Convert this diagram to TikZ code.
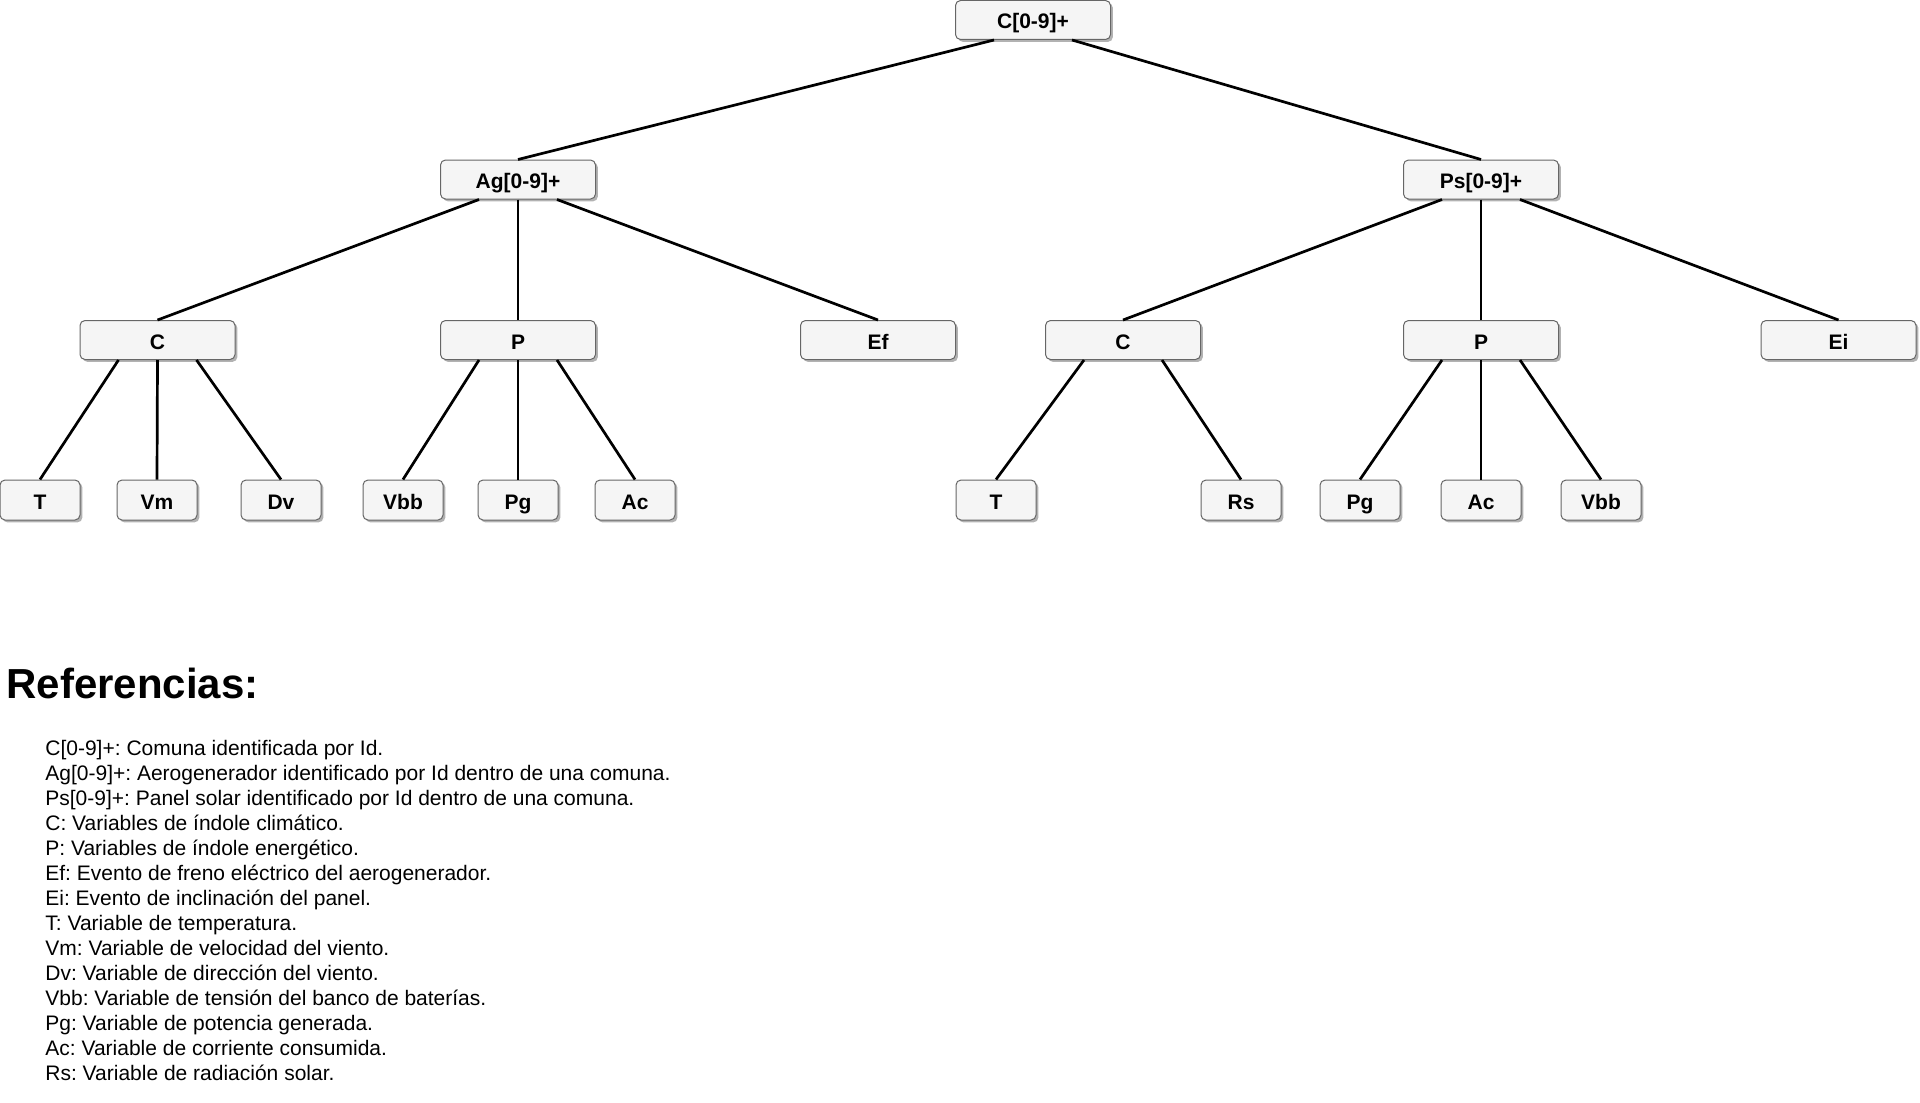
\documentclass[tikz,border=0pt]{standalone}
\usepackage{fontspec}
\setmainfont{Liberation Sans}
\usetikzlibrary{calc,shadows}
\definecolor{boxfill}{HTML}{F5F5F5}
\definecolor{boxline}{HTML}{666666}
\frenchspacing
\begin{document}
\begin{tikzpicture}[x=0.5pt,y=-0.5pt,
  box/.style={draw=boxline, fill=boxfill, rounded corners=2.5pt, line width=0.5pt,
    inner sep=0pt, text height=9pt, text depth=0pt,
    font=\bfseries\fontsize{10.5}{12}\selectfont,
    drop shadow={shadow xshift=1.2pt, shadow yshift=-1.2pt, opacity=0.3, fill=black}},
  bigbox/.style={box, minimum width=77.5pt, minimum height=19.5pt},
  leafbox/.style={box, minimum width=40pt, minimum height=20pt},
  edgeline/.style={line width=1.35pt, black},
  reftext/.style={anchor=base west, inner sep=0pt, font=\fontsize{10.5}{12}\selectfont}]

\useasboundingbox (0,0) rectangle (1920,1102);

% root
\node[bigbox] (root) at (1033,20) {C[0-9]+};

% first level
\node[bigbox] (ag) at (518,179.5) {Ag[0-9]+};
\node[bigbox] (ps) at (1481,179.5) {Ps[0-9]+};

% second level
\node[bigbox] (cA) at (157.5,340) {C};
\node[bigbox] (pA) at (518,340) {P};
\node[bigbox] (ef) at (878,340) {Ef};
\node[bigbox] (cB) at (1123,340) {C};
\node[bigbox] (pB) at (1481,340) {P};
\node[bigbox] (ei) at (1838.5,340) {Ei};

% leaves
\node[leafbox] (tA)   at (40,500)   {T};
\node[leafbox] (vm)   at (157,500)  {Vm};
\node[leafbox] (dv)   at (281,500)  {Dv};
\node[leafbox] (vbbA) at (403,500)  {Vbb};
\node[leafbox] (pgA)  at (518,500)  {Pg};
\node[leafbox] (acA)  at (635,500)  {Ac};
\node[leafbox] (tB)   at (996,500)  {T};
\node[leafbox] (rs)   at (1241,500) {Rs};
\node[leafbox] (pgB)  at (1360,500) {Pg};
\node[leafbox] (acB)  at (1481,500) {Ac};
\node[leafbox] (vbbB) at (1601,500) {Vbb};

% connectors: outer branches leave at a quarter of the parent's width
\newcommand{\qleft}[1]{($(#1.south west)!0.25!(#1.south east)$)}
\newcommand{\qright}[1]{($(#1.south west)!0.75!(#1.south east)$)}

\draw[edgeline] \qleft{root} -- (ag.north);
\draw[edgeline] \qright{root} -- (ps.north);

\draw[edgeline] \qleft{ag} -- (cA.north);
\draw[edgeline] (ag.south) -- (pA.north);
\draw[edgeline] \qright{ag} -- (ef.north);

\draw[edgeline] \qleft{ps} -- (cB.north);
\draw[edgeline] (ps.south) -- (pB.north);
\draw[edgeline] \qright{ps} -- (ei.north);

\draw[edgeline] \qleft{cA} -- (tA.north);
\draw[edgeline] (cA.south) -- (vm.north);
\draw[edgeline] \qright{cA} -- (dv.north);

\draw[edgeline] \qleft{pA} -- (vbbA.north);
\draw[edgeline] (pA.south) -- (pgA.north);
\draw[edgeline] \qright{pA} -- (acA.north);

\draw[edgeline] \qleft{cB} -- (tB.north);
\draw[edgeline] \qright{cB} -- (rs.north);

\draw[edgeline] \qleft{pB} -- (pgB.north);
\draw[edgeline] (pB.south) -- (acB.north);
\draw[edgeline] \qright{pB} -- (vbbB.north);

% legend
\node[anchor=base west, inner sep=0pt, font=\bfseries\fontsize{21}{25}\selectfont] (title) at (6,698) {Referencias:};

\foreach \t [count=\i] in {
  {C[0-9]+: Comuna identificada por Id.},
  {Ag[0-9]+: Aerogenerador identificado por Id dentro de una comuna.},
  {Ps[0-9]+: Panel solar identificado por Id dentro de una comuna.},
  {C: Variables de índole climático.},
  {P: Variables de índole energético.},
  {Ef: Evento de freno eléctrico del aerogenerador.},
  {Ei: Evento de inclinación del panel.},
  {T: Variable de temperatura.},
  {Vm: Variable de velocidad del viento.},
  {Dv: Variable de dirección del viento.},
  {Vbb: Variable de tensión del banco de baterías.},
  {Pg: Variable de potencia generada.},
  {Ac: Variable de corriente consumida.},
  {Rs: Variable de radiación solar.}}
  \node[reftext] (ref\i) at ({45},{755+25.05*(\i-1)}) {\t};

\end{tikzpicture}
\end{document}
